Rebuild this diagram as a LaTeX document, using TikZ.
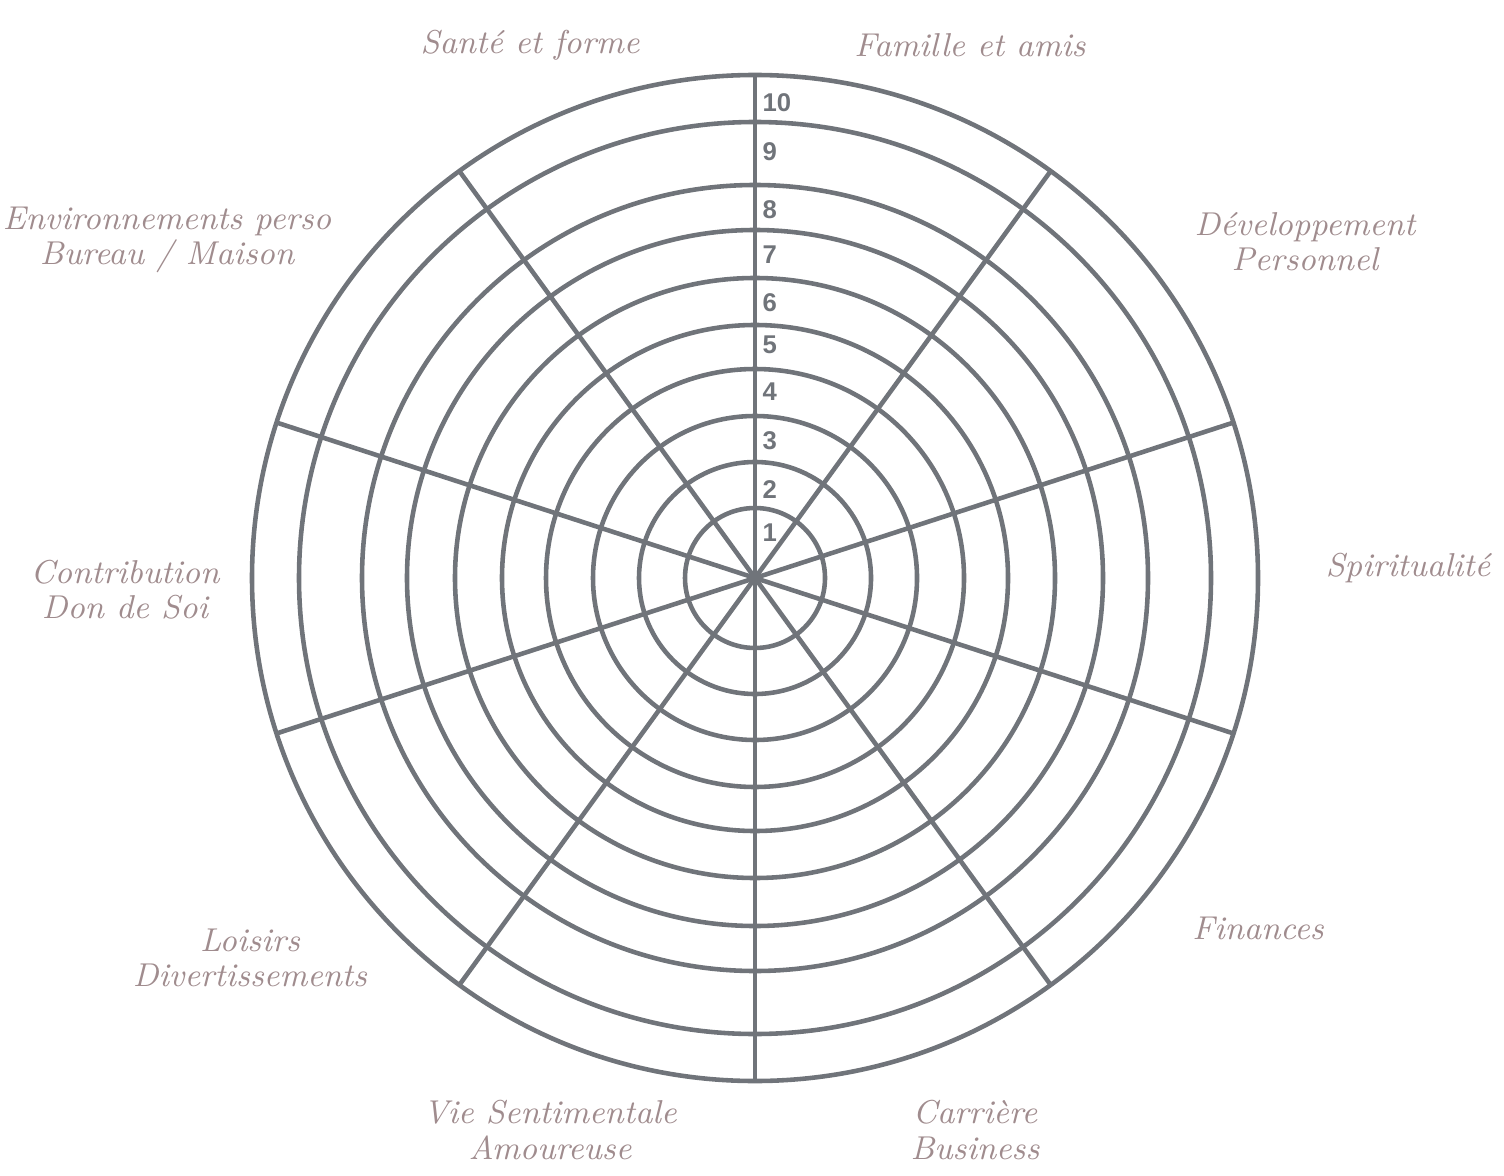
\documentclass[tikz,border=0pt]{standalone}
\usepackage{fontspec}
\newfontfamily\numfont{Liberation Sans}
\definecolor{wheelgrey}{RGB}{112,116,122}
\definecolor{inkrose}{RGB}{160,140,142}
\tikzset{
  ring/.style={draw=wheelgrey,line width=1.3pt},
  score/.style={anchor=west,inner sep=0pt,text=wheelgrey,font=\numfont\bfseries\fontsize{7.3}{9}\selectfont},
  area/.style={align=center,text=inkrose,font=\itshape\fontsize{9.4}{10}\selectfont}
}
\begin{document}
\begin{tikzpicture}[x=0.01cm,y=0.01cm]
  \useasboundingbox (0,0) rectangle (1504,1175);
  \coordinate (c) at (755,597);
  % rings 1..10
  \foreach \r in {70,116,162,209,253,300,348,393,456,503}
    \draw[ring] (c) circle (\r);
  % ten spokes
  \foreach \a in {18,54,...,342}
    \draw[ring] (c) -- ++(\a:503);
  % scale
  \foreach \n/\d in {1/45,2/88,3/137,4/186,5/233,6/275,7/323,8/368,9/426,10/475}
    \path (c) ++(7,\d) node[score] (s\n) {\n};
  % areas
  \node[area] (sante) at (530,1130) {Santé et forme};
  \node[area] (famille) at (970,1130) {Famille et amis};
  \node[area] (devperso) at (1305,933) {Développement\\Personnel};
  \node[area] (spirit) at (1408,607) {Spiritualité};
  \node[area] (finances) at (1258,247) {Finances};
  \node[area] (carriere) at (975,45) {Carrière\\Business};
  \node[area] (amour) at (550,45) {Vie Sentimentale\\Amoureuse};
  \node[area] (loisirs) at (250,217) {Loisirs\\Divertissements};
  \node[area] (contrib) at (125,585) {Contribution\\Don de Soi};
  \node[area] (environ) at (167,935) {Environnements perso\\Bureau / Maison};
\end{tikzpicture}
\end{document}
